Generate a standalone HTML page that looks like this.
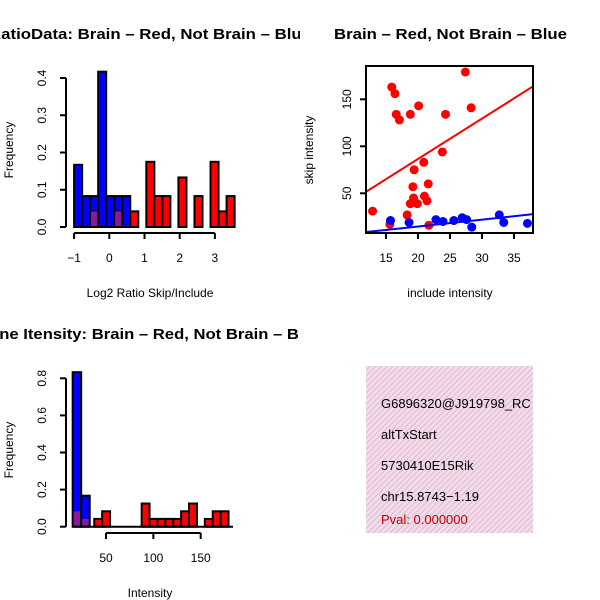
<!DOCTYPE html>
<html><head><meta charset="utf-8"><style>
html,body{margin:0;padding:0;background:#fff}
svg{display:block;font-family:"Liberation Sans",Arial,sans-serif}
</style></head><body>
<svg id="c" width="600" height="600" xmlns="http://www.w3.org/2000/svg">
<defs>
<clipPath id="q1"><rect x="0" y="0" width="300" height="300"/></clipPath>
<clipPath id="q2"><rect x="300" y="0" width="300" height="300"/></clipPath>
<clipPath id="q3"><rect x="0" y="300" width="300" height="300"/></clipPath>
<clipPath id="pc"><rect x="366" y="66" width="167" height="167"/></clipPath>
<clipPath id="tp"><rect x="366" y="366" width="167" height="167"/></clipPath>
<pattern id="hatch" width="4" height="4" patternUnits="userSpaceOnUse" patternTransform="rotate(45)">
<rect width="4" height="4" fill="#f9d8f2"/><rect width="1.3" height="4" fill="#d8c8c8"/></pattern>
</defs>
<g id="p1" clip-path="url(#q1)"></g>
<g id="p2" clip-path="url(#q2)"></g>
<g id="p3" clip-path="url(#q3)"></g>
<g id="p4">
<rect x="366" y="366" width="167" height="167" fill="url(#hatch)"/>
<g clip-path="url(#tp)" font-size="13">
<text x="381" y="408">G6896320@J919798_RC</text>
<text x="381" y="439">altTxStart</text>
<text x="381" y="470">5730410E15Rik</text>
<text x="381" y="501">chr15.8743−1.19</text>
<text x="381" y="524" fill="#c00000">Pval: 0.000000</text>
</g></g>
</svg>
<script>
// ---- Histogram 1 data (Log2 ratio) ----
const h1BinStart = -1.0;
const h1BinWidth = 0.228;
const h1Blue = [0.167,0.083,0.083,0.417,0.083,0.083,0.083,0,0,0,0,0,0,0,0,0,0,0,0,0];
const h1Red  = [0,0,0.042,0,0,0.042,0,0.042,0,0.175,0.083,0.083,0,0.133,0,0.083,0,0.175,0.042,0.083];
const h1XTicks = [-1,0,1,2,3];
const h1YTicks = [0.0,0.1,0.2,0.3,0.4];
// ---- Scatter data ----
const redX = [12.9,15.9,16.4,16.6,17.1,18.8,20.1,24.3,27.4,28.3,23.8,20.9,19.4,19.2,21.6,19.3,18.8,19.9,21.0,21.4,18.3,15.6,21.7];
const redY = [31,163,156,134,128,134,143,134,179,141,94,83,75,57,60,45,39,39,47,42,27,17,16];
const blueX = [15.7,18.6,22.8,23.9,25.6,26.9,27.6,28.4,32.7,33.4,37.1];
const blueY = [21,19,22,20,21,24,22,14,27,19,18];
const redFit = [0.5,4.30];
const blueFit = [0.1,0.73];
const scXTicks = [15,20,25,30,35];
const scYTicks = [50,100,150];
// ---- Histogram 2 data (Intensity) ----
const h2BlueStart = 14.8, h2BlueWidth = 9.0;
const h2Blue = [0.833,0.167];
const h2Purple = [0.083,0.042];
const h2RedStart = 37.6, h2RedWidth = 8.34;
const h2Red = [0.042,0.083,0,0,0,0,0.125,0.042,0.042,0.042,0.042,0.083,0.125,0,0.042,0.083,0.083];
const h2XTicks = [50,100,150];
const h2YTicks = [0.0,0.2,0.4,0.6,0.8];

const NS="http://www.w3.org/2000/svg";
function mk(parent,tag,attrs){const e=document.createElementNS(NS,tag);for(const k in attrs)e.setAttribute(k,attrs[k]);parent.appendChild(e);return e;}
function txt(parent,x,y,s,attrs){const e=mk(parent,'text',Object.assign({x:x,y:y},attrs||{}));e.textContent=s;return e;}

// ===== Panel 1 =====
(function(){
const g=document.getElementById('p1');
const sx=v=>109.3+(v-0)*35.2, sy=v=>227-v*372.5;
const t=txt(g,-11,39,'RatioData: Brain – Red, Not Brain – Blue',{'font-weight':'bold','font-size':'15',textLength:'322',lengthAdjust:'spacingAndGlyphs'});


const bars=(arr,fill,nm)=>arr.forEach((v,i)=>{if(!v)return;const x0=sx(h1BinStart+i*h1BinWidth),x1=sx(h1BinStart+(i+1)*h1BinWidth);
const r=mk(g,'rect',{x:x0,y:sy(v),width:x1-x0,height:sy(0)-sy(v),fill:fill,stroke:'#000','stroke-width':2});

});
bars(h1Blue,'#0000ff','blue-bar');
bars(h1Red,'#ff0000','red-bar');
h1Blue.forEach((v,i)=>{const w=h1Red[i];if(v&&w){const x0=sx(h1BinStart+i*h1BinWidth),x1=sx(h1BinStart+(i+1)*h1BinWidth);
const r=mk(g,'rect',{x:x0+1,y:sy(Math.min(v,w)),width:x1-x0-2,height:sy(0)-sy(Math.min(v,w))-1,fill:'#8a1a9a'});

}});
mk(g,'line',{x1:sx(-1),x2:sx(3),y1:233,y2:233,stroke:'#000','stroke-width':2});
h1XTicks.forEach(v=>{mk(g,'line',{x1:sx(v),x2:sx(v),y1:233,y2:239,stroke:'#000','stroke-width':2});
const l=txt(g,sx(v),262,String(v).replace('-','−'),{'text-anchor':'middle','font-size':'12'});

});
mk(g,'line',{x1:66,x2:66,y1:sy(0),y2:sy(0.4),stroke:'#000','stroke-width':2});
h1YTicks.forEach(v=>{mk(g,'line',{x1:60,x2:66,y1:sy(v),y2:sy(v),stroke:'#000','stroke-width':2});
const l=txt(g,0,0,v.toFixed(1),{'text-anchor':'middle','font-size':'12',transform:`translate(46,${sy(v)}) rotate(-90)`});

});
const xl=txt(g,150,297,'Log2 Ratio Skip/Include',{'text-anchor':'middle','font-size':'12'});


const yl=txt(g,0,0,'Frequency',{'text-anchor':'middle','font-size':'12',transform:'translate(13,150) rotate(-90)'});


})();

// ===== Panel 2 =====
(function(){
const g=document.getElementById('p2');
const sx=v=>386+(v-15)*6.4, sy=v=>193.3-(v-50)*0.94;
const t=txt(g,334,39,'Brain – Red, Not Brain – Blue',{'font-weight':'bold','font-size':'15',textLength:'233',lengthAdjust:'spacingAndGlyphs'});


const pg=mk(g,'g',{'clip-path':'url(#pc)'});
redX.forEach((x,i)=>{const c=mk(pg,'circle',{cx:sx(x),cy:sy(redY[i]),r:4.5,fill:'#ff0000'});

});
blueX.forEach((x,i)=>{const c=mk(pg,'circle',{cx:sx(x),cy:sy(blueY[i]),r:4.5,fill:'#0000ff'});

});
const xa=10,xb=40;
const rl=mk(pg,'line',{x1:sx(xa),x2:sx(xb),y1:sy(redFit[0]+redFit[1]*xa),y2:sy(redFit[0]+redFit[1]*xb),stroke:'#ff0000','stroke-width':2});


const bl=mk(pg,'line',{x1:sx(xa),x2:sx(xb),y1:sy(blueFit[0]+blueFit[1]*xa),y2:sy(blueFit[0]+blueFit[1]*xb),stroke:'#0000ff','stroke-width':2});


const fr=mk(g,'rect',{x:366,y:66,width:167,height:167,fill:'none',stroke:'#000','stroke-width':2});


scXTicks.forEach(v=>{mk(g,'line',{x1:sx(v),x2:sx(v),y1:233,y2:239,stroke:'#000','stroke-width':2});
const l=txt(g,sx(v),262,String(v),{'text-anchor':'middle','font-size':'12'});

});
scYTicks.forEach(v=>{mk(g,'line',{x1:360,x2:366,y1:sy(v),y2:sy(v),stroke:'#000','stroke-width':2});
const l=txt(g,0,0,String(v),{'text-anchor':'middle','font-size':'12',transform:`translate(351,${sy(v)}) rotate(-90)`});

});
const xl=txt(g,450,297,'include intensity',{'text-anchor':'middle','font-size':'12'});


const yl=txt(g,0,0,'skip intensity',{'text-anchor':'middle','font-size':'12',transform:'translate(313,150) rotate(-90)'});


})();

// ===== Panel 3 =====
(function(){
const g=document.getElementById('p3');
const sx=v=>106+(v-50)*0.947, sy=v=>526.7-v*185.5;
const t=txt(g,-23,339,'Gene Itensity: Brain – Red, Not Brain – Blue',{'font-weight':'bold','font-size':'15',textLength:'346',lengthAdjust:'spacingAndGlyphs'});


h2Blue.forEach((v,i)=>{const x0=sx(h2BlueStart+i*h2BlueWidth),x1=sx(h2BlueStart+(i+1)*h2BlueWidth);
const r=mk(g,'rect',{x:x0,y:sy(v),width:x1-x0,height:sy(0)-sy(v),fill:'#0000ff',stroke:'#000','stroke-width':2});


const p=h2Purple[i];
const o=mk(g,'rect',{x:x0+1,y:sy(p),width:x1-x0-2,height:sy(0)-sy(p)-1,fill:'#8a1a9a'});

});
h2Red.forEach((v,i)=>{if(!v)return;const x0=sx(h2RedStart+i*h2RedWidth),x1=sx(h2RedStart+(i+1)*h2RedWidth);
const r=mk(g,'rect',{x:x0,y:sy(v),width:x1-x0,height:sy(0)-sy(v),fill:'#ff0000',stroke:'#000','stroke-width':2});

});
mk(g,'line',{x1:72,x2:233,y1:sy(0),y2:sy(0),stroke:'#000','stroke-width':2});
mk(g,'line',{x1:sx(50),x2:sx(150),y1:533,y2:533,stroke:'#000','stroke-width':2});
h2XTicks.forEach(v=>{mk(g,'line',{x1:sx(v),x2:sx(v),y1:533,y2:539,stroke:'#000','stroke-width':2});
const l=txt(g,sx(v),562,String(v),{'text-anchor':'middle','font-size':'12'});

});
mk(g,'line',{x1:66,x2:66,y1:sy(0),y2:sy(0.8),stroke:'#000','stroke-width':2});
h2YTicks.forEach(v=>{mk(g,'line',{x1:60,x2:66,y1:sy(v),y2:sy(v),stroke:'#000','stroke-width':2});
const l=txt(g,0,0,v.toFixed(1),{'text-anchor':'middle','font-size':'12',transform:`translate(46,${sy(v)}) rotate(-90)`});

});
const xl=txt(g,150,597,'Intensity',{'text-anchor':'middle','font-size':'12'});


const yl=txt(g,0,0,'Frequency',{'text-anchor':'middle','font-size':'12',transform:'translate(13,450) rotate(-90)'});


})();
</script>
</body></html>
